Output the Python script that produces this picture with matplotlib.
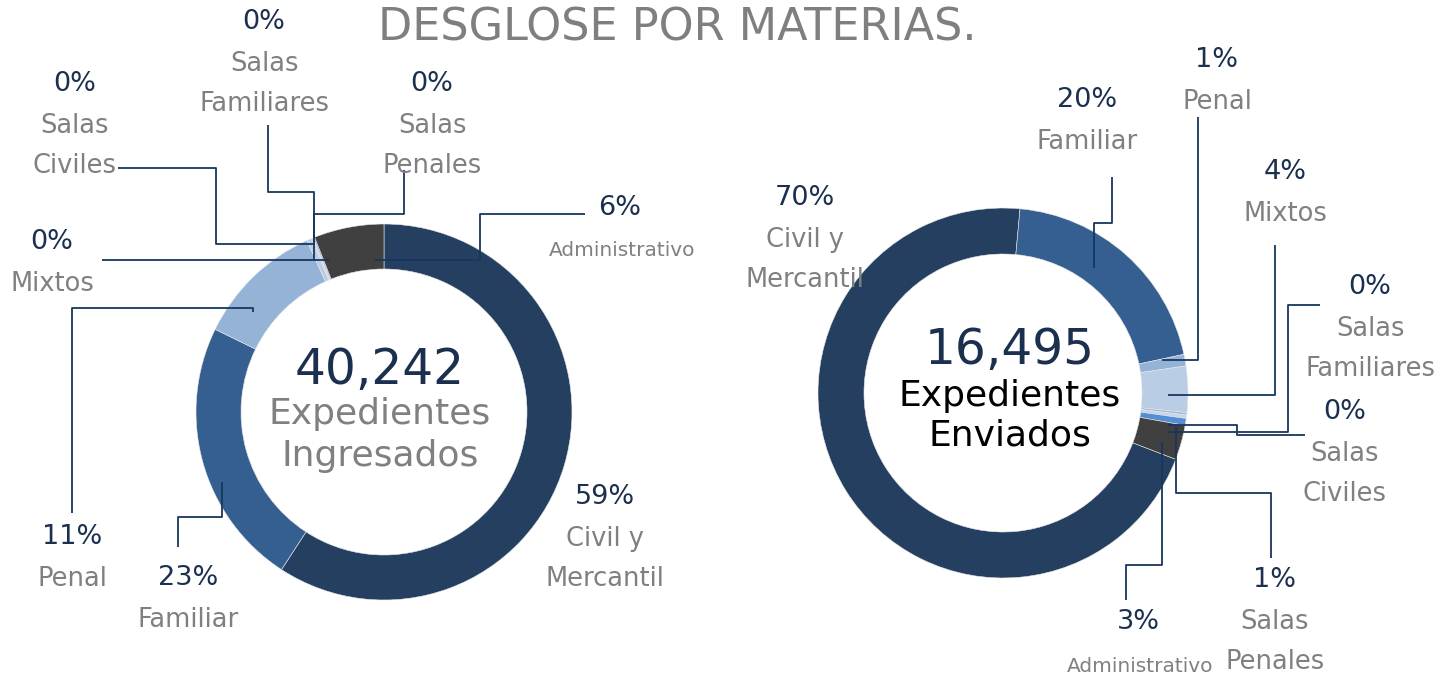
import matplotlib.pyplot as plt

W, H = 1438, 676

# ---------------------------------------------------------------
# data
# ---------------------------------------------------------------
categorias = ['Civil y\nMercantil', 'Familiar', 'Penal', 'Mixtos',
              'Salas\nCiviles', 'Salas\nFamiliares', 'Salas\nPenales',
              'Administrativo']
ingresados_pct = [59, 23, 11, 0.4, 0.1, 0.1, 0.1, 6]
enviados_pct = [70, 20, 1, 4, 0.2, 0.3, 0.6, 3]
total_ingresados = '40,242'
total_enviados = '16,495'

colores = ['#253F60', '#365F91', '#95B3D7', '#B9CDE5',
           '#9BB7D9', '#C6D6EA', '#558ED5', '#404040']

navy = '#1B2F4E'
gris = '#808080'

# label positions (image pixels, y down) -> percent line; name lines below
ing_lab = [(605, 497), (188, 578), (72, 537), (52, 242),
           (75, 84), (264, 22), (432, 84), (620, 208)]
env_lab = [(805, 198), (1087, 100), (1217, 60), (1285, 172),
           (1345, 412), (1370, 287), (1275, 580), (1138, 622)]

ing_lead = [None,
            [(222, 482), (222, 517), (178, 517), (178, 547)],
            [(253, 312), (253, 308), (72, 308), (72, 513)],
            [(329, 260), (102, 260)],
            [(313, 244), (216, 244), (216, 168), (118, 168)],
            [(314, 260), (314, 192), (268, 192), (268, 125)],
            [(314, 245), (314, 214), (404, 214), (404, 170)],
            [(375, 260), (480, 260), (480, 214), (585, 214)]]
env_lead = [None,
            [(1094, 268), (1094, 223), (1112, 223), (1112, 177)],
            [(1162, 360), (1198, 360), (1198, 117)],
            [(1168, 395), (1275, 395), (1275, 245)],
            [(1168, 425), (1237, 425), (1237, 435), (1305, 435)],
            [(1168, 432), (1288, 432), (1288, 305), (1320, 305)],
            [(1176, 427), (1176, 493), (1271, 493), (1271, 558)],
            [(1162, 442), (1162, 565), (1126, 565), (1126, 600)]]


def Y(y):
    return H - y


fig = plt.figure(figsize=(W / 100, H / 100), dpi=100)
ax = fig.add_axes([0, 0, 1, 1])


def donut(vals, cx, cy, r, w, start, labs, leads, adm_y):
    ax.pie(vals, colors=colores, center=(cx, Y(cy)), radius=r,
           startangle=start, counterclock=False, frame=True,
           wedgeprops=dict(width=w, edgecolor='#e8e8e8', linewidth=0.4))
    for i, v in enumerate(vals):
        x, y = labs[i]
        ax.text(x, Y(y), f'{round(v)}%', ha='center', va='center',
                fontsize=19.5, color=navy)
        lines = categorias[i].split('\n')
        for j, t in enumerate(lines):
            if t == 'Administrativo':
                ax.text(x + 2, Y(y + adm_y), t, ha='center', va='center',
                        fontsize=14.5, color=gris)
            else:
                ax.text(x, Y(y + 42 + 40 * j), t, ha='center', va='center',
                        fontsize=18.5, color=gris)
        if leads[i] is not None:
            xs = [p[0] for p in leads[i]]
            ys = [Y(p[1]) for p in leads[i]]
            ax.plot(xs, ys, color='#17375E', lw=1.3, solid_capstyle='butt')


donut(ingresados_pct, 384, 412, 188, 45, 90, ing_lab, ing_lead, 42)
donut(enviados_pct, 1003, 393, 185, 46, -21, env_lab, env_lead, 44)

# center texts
ax.text(380, Y(370), total_ingresados, ha='center', va='center',
        fontsize=35, color=navy)
ax.text(380, Y(414), 'Expedientes', ha='center', va='center',
        fontsize=26, color=gris)
ax.text(380, Y(456), 'Ingresados', ha='center', va='center',
        fontsize=26, color=gris)
ax.text(1010, Y(350), total_enviados, ha='center', va='center',
        fontsize=35, color=navy)
ax.text(1010, Y(396), 'Expedientes', ha='center', va='center',
        fontsize=26, color='black')
ax.text(1010, Y(436), 'Enviados', ha='center', va='center',
        fontsize=26, color='black')

ax.text(677, Y(28), 'DESGLOSE POR MATERIAS.', ha='center', va='center',
        fontsize=32, color='#7F7F7F')

ax.set_xlim(0, W)
ax.set_ylim(0, H)
ax.set_aspect('equal')
ax.axis('off')

fig.savefig('out.png', dpi=100)
